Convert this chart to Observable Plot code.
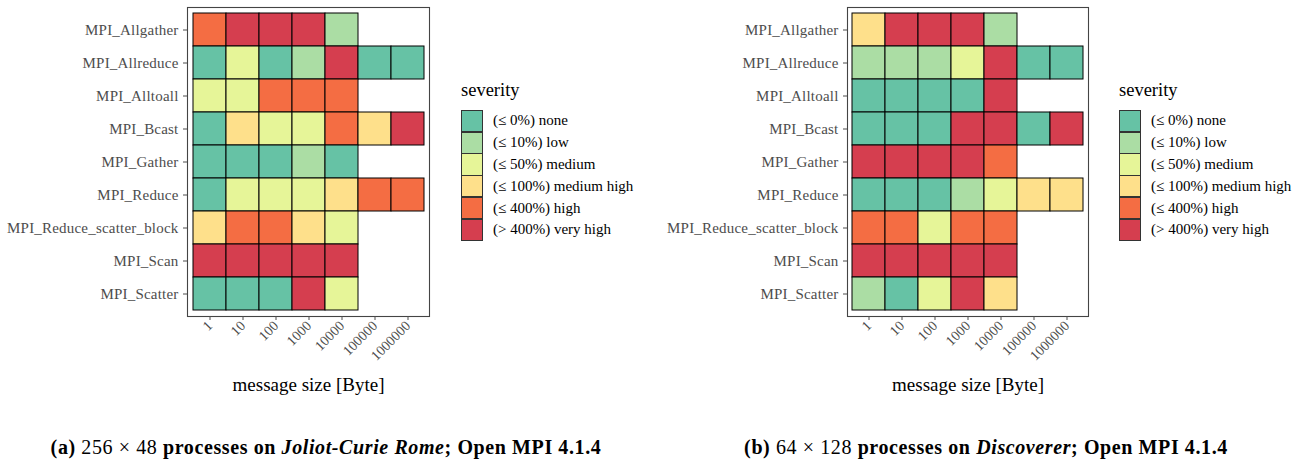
<!DOCTYPE html>
<html>
<head>
<meta charset="utf-8">
<script src="https://cdn.jsdelivr.net/npm/d3@7"></script>
<script src="https://cdn.jsdelivr.net/npm/@observablehq/plot@0.6"></script>
<style>
  html, body { margin: 0; padding: 0; background: #fff; }
  body { width: 1304px; height: 464px; position: relative; overflow: hidden; font-family: "Liberation Serif", serif; }
  .panel { position: absolute; top: 0; }
  .panel svg, .panel svg text { font-family: "Liberation Serif", serif !important; }
  .panel [aria-label="y-axis tick label"] text { letter-spacing: 0.2px; }
  .panel [aria-label="x-axis label"] text, .panel [aria-label="x-axis label"] { fill: #000; font-size: 19px; }
  .legend { position: absolute; font-family: "Liberation Serif", serif; }
  .legend .title { font-size: 18.5px; color: #000; height: 24px; line-height: 24px; margin-bottom: 8px; }
  .legend .row { display: flex; align-items: center; height: 21.8px; }
  .legend .sw { width: 20px; height: 20.3px; border: 0.8px solid #333; box-sizing: content-box; margin-right: 10px; }
  .legend .row span { font-size: 15px; color: #000; white-space: nowrap; font-family: "Liberation Serif", serif; }
  .caption { position: absolute; top: 436px; font-size: 20px; letter-spacing: 0.6px; white-space: nowrap; transform: translateX(-50%); color: #000; font-family: "Liberation Serif", serif; }
  .caption b { font-weight: bold; }
</style>
</head>
<body>
<script>
// ---- data ----
const sizes = ["1", "10", "100", "1000", "10000", "100000", "1000000"];
const collectives = ["MPI_Allgather", "MPI_Allreduce", "MPI_Alltoall", "MPI_Bcast", "MPI_Gather",
  "MPI_Reduce", "MPI_Reduce_scatter_block", "MPI_Scan", "MPI_Scatter"];
const severityLevels = ["none", "low", "medium", "medium high", "high", "very high"];
const severityLabels = ["(≤ 0%) none", "(≤ 10%) low", "(≤ 50%) medium", "(≤ 100%) medium high", "(≤ 400%) high", "(> 400%) very high"];
const severityColors = ["#66c2a5", "#abdda4", "#e6f598", "#fee08b", "#f46d43", "#d53e4f"];

// severity per collective (rows) by message size (columns); null = not measured
const severityA = [
  ["high", "very high", "very high", "very high", "low", null, null],
  ["none", "medium", "none", "low", "very high", "none", "none"],
  ["medium", "medium", "high", "high", "high", null, null],
  ["none", "medium high", "medium", "medium", "high", "medium high", "very high"],
  ["none", "none", "none", "low", "none", null, null],
  ["none", "medium", "medium", "medium", "medium high", "high", "high"],
  ["medium high", "high", "high", "medium high", "medium", null, null],
  ["very high", "very high", "very high", "very high", "very high", null, null],
  ["none", "none", "none", "very high", "medium", null, null]
];
const severityB = [
  ["medium high", "very high", "very high", "very high", "low", null, null],
  ["low", "low", "low", "medium", "very high", "none", "none"],
  ["none", "none", "none", "none", "very high", null, null],
  ["none", "none", "none", "very high", "very high", "none", "very high"],
  ["very high", "very high", "very high", "very high", "high", null, null],
  ["none", "none", "none", "low", "medium", "medium high", "medium high"],
  ["high", "high", "medium", "high", "high", null, null],
  ["very high", "very high", "very high", "very high", "very high", null, null],
  ["low", "none", "medium", "very high", "medium high", null, null]
];

function toTable(matrix) {
  const rows = [];
  collectives.forEach((c, i) => sizes.forEach((s, j) => {
    const v = matrix[i][j];
    if (v != null) rows.push({collective: c, size: s, severity: v});
  }));
  return rows;
}

function panel(matrix, left, width, marginRight) {
  const chart = Plot.plot({
    width: width,
    height: 400,
    marginLeft: 187,
    marginRight: marginRight,
    marginTop: 7,
    marginBottom: 84,
    style: {fontFamily: "'Liberation Serif', serif", background: "transparent"},
    x: {domain: sizes, paddingInner: 0, paddingOuter: 0.09, label: null},
    y: {domain: collectives, paddingInner: 0, paddingOuter: 0.1, label: null},
    color: {domain: severityLevels, range: severityColors, type: "ordinal"},
    marks: [
      Plot.frame({stroke: "#444", strokeWidth: 1.1}),
      Plot.cell(toTable(matrix), {x: "size", y: "collective", fill: "severity", stroke: "#000", strokeWidth: 1, inset: 0}),
      Plot.axisX({tickRotate: -45, tickSize: 4, tickPadding: 3, fontSize: 14, color: "#4d4d4d", stroke: "#4d4d4d",
        label: "message size [Byte]", labelAnchor: "center", labelArrow: "none", labelOffset: 74}),
      Plot.axisY({tickSize: 4, tickPadding: 5, fontSize: 15, color: "#4d4d4d", stroke: "#4d4d4d", label: null})
    ]
  });
  const div = document.createElement("div");
  div.className = "panel";
  div.style.left = left + "px";
  div.appendChild(chart);
  document.body.appendChild(div);
  return chart;
}

function legend(chart, left, top) {
  const color = chart.scale("color");
  const lg = document.createElement("div");
  lg.className = "legend";
  lg.style.left = left + "px";
  lg.style.top = top + "px";
  let html = `<div class="title">severity</div>`;
  severityLevels.forEach((lv, i) => {
    html += `<div class="row"><div class="sw" style="background:${color.apply(lv)}"></div><span>${severityLabels[i]}</span></div>`;
  });
  lg.innerHTML = html;
  document.body.appendChild(lg);
}

function caption(html, centerX) {
  const c = document.createElement("div");
  c.className = "caption";
  c.style.left = centerX + "px";
  c.innerHTML = html;
  document.body.appendChild(c);
}

const chartA = panel(severityA, 0, 660, 231);
const chartB = panel(severityB, 660, 644, 216);
legend(chartA, 461, 78);
legend(chartB, 1119, 78);
caption(`<b>(a)</b> 256 × 48 <b>processes on <i>Joliot-Curie Rome</i>; Open MPI 4.1.4</b>`, 326);
caption(`<b>(b)</b> 64 × 128 <b>processes on <i>Discoverer</i>; Open MPI 4.1.4</b>`, 986);
</script>
</body>
</html>
